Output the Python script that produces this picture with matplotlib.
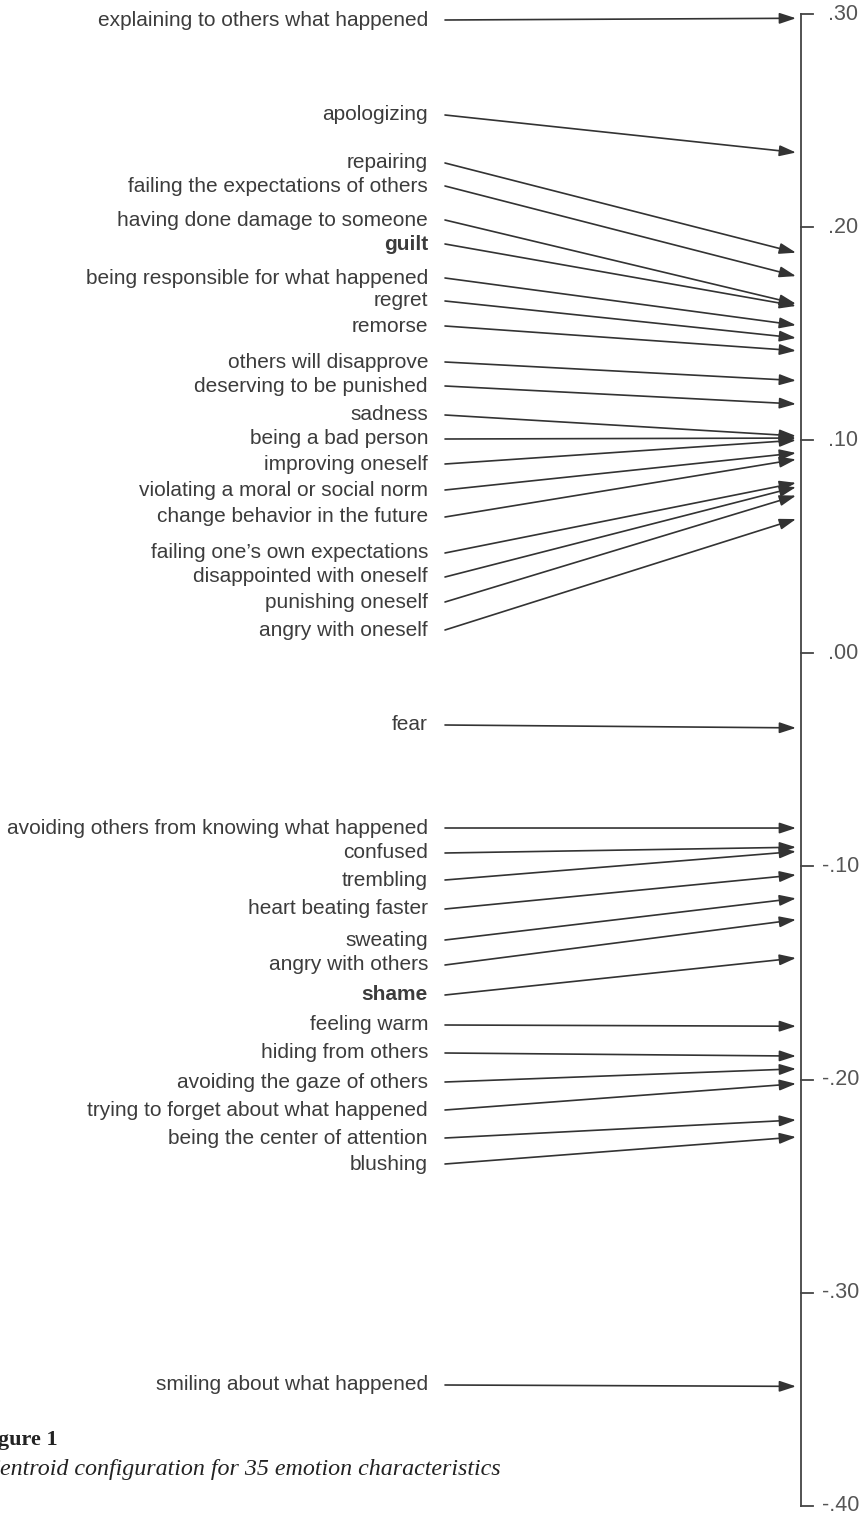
import matplotlib
matplotlib.use("Agg")
import matplotlib.pyplot as plt

# centroid values for the 35 characteristics (shared scale, right axis)
labels = [
    "explaining to others what happened", "apologizing", "repairing",
    "failing the expectations of others", "having done damage to someone", "guilt",
    "being responsible for what happened", "regret", "remorse",
    "others will disapprove", "deserving to be punished", "sadness",
    "being a bad person", "improving oneself", "violating a moral or social norm",
    "change behavior in the future", "failing one\u2019s own expectations",
    "disappointed with oneself", "punishing oneself", "angry with oneself",
    "fear",
    "avoiding others from knowing what happened", "confused", "trembling",
    "heart beating faster", "sweating", "angry with others", "shame",
    "feeling warm", "hiding from others", "avoiding the gaze of others",
    "trying to forget about what happened", "being the center of attention",
    "blushing",
    "smiling about what happened",
]
values = [
    0.298, 0.235, 0.188, 0.177, 0.164, 0.163, 0.154, 0.148, 0.142, 0.128,
    0.117, 0.102, 0.101, 0.100, 0.094, 0.091, 0.080, 0.078, 0.074, 0.063,
    -0.035,
    -0.082, -0.091, -0.093, -0.104, -0.115, -0.125, -0.143, -0.175, -0.189,
    -0.195, -0.202, -0.219, -0.227,
    -0.344,
]
bold_labels = ["guilt", "shame"]
tick_values = [0.30, 0.20, 0.10, 0.00, -0.10, -0.20, -0.30, -0.40]

# where each text label sits on the left (pixel rows from the top)
label_rows = [20, 115, 163, 186, 220, 244, 278, 301, 326, 362, 386, 415, 439,
              464, 490, 517, 553, 577, 602, 630,
              725,
              828, 853, 880, 909, 940, 965, 995, 1025, 1053, 1082, 1110, 1138, 1164,
              1385]


def row_to_val(r):
    return 0.30 - (r - 14) / 2131.0


W, H = 865, 1514
fig = plt.figure(figsize=(W / 100, H / 100), dpi=100)
ax = fig.add_axes([0, 0, 1, 1])
ax.set_xlim(0, W)
ax.set_ylim(row_to_val(H), row_to_val(0))
ax.axis("off")

text_col = "#3c3c3c"
line_col = "#333333"
x_text, x_start, x_tip, x_axis = 428, 445, 796, 801

for lab, val, row in zip(labels, values, label_rows):
    y0 = row_to_val(row)
    ax.text(x_text, y0, lab, ha="right", va="center", fontsize=15,
            family="Liberation Sans", color=text_col,
            fontweight="bold" if lab in bold_labels else "normal")
    ax.annotate("", xy=(x_tip, val), xytext=(x_start, y0),
                arrowprops=dict(arrowstyle="-|>,head_length=1.0,head_width=0.33",
                                mutation_scale=10, color=line_col, lw=1.2,
                                shrinkA=0, shrinkB=0))

# vertical scale with ticks on its right side
ax.plot([x_axis, x_axis], [tick_values[0], tick_values[-1]], color="#444444", lw=1.3)
for t in tick_values:
    ax.plot([x_axis, x_axis + 12], [t, t], color="#444444", lw=1.3)
    s = f"{t:.2f}".replace("0.", ".")
    ax.text(x_axis + 27 if t >= 0 else x_axis + 21, t, s, ha="left", va="center",
            fontsize=15.5, family="Liberation Sans", color="#555555")

# caption (left edge runs off the page)
ax.text(-22, row_to_val(1440), "Figure 1", ha="left", va="center", fontsize=16,
        family="Liberation Serif", fontweight="bold", color="#222222", clip_on=True)
ax.text(-16, row_to_val(1470), "Centroid configuration for 35 emotion characteristics",
        ha="left", va="center", fontsize=17.3, family="Liberation Serif",
        style="italic", color="#222222", clip_on=True)

fig.savefig("out.png", dpi=100)
